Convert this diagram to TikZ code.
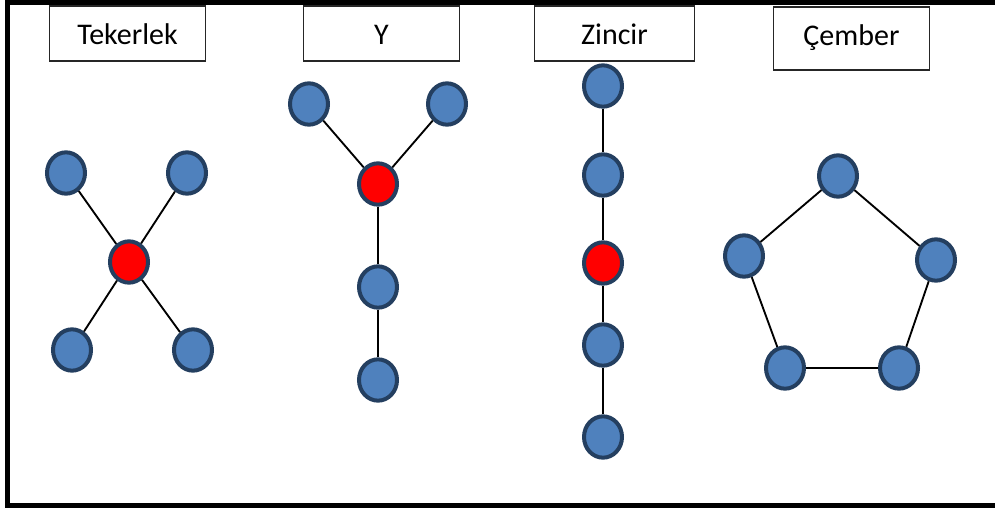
\documentclass[tikz,border=0pt]{standalone}
\usepackage{fontspec}
\setmainfont{Carlito}
\usepackage{tikz}
\usetikzlibrary{shapes.geometric}

\definecolor{nodeblue}{HTML}{4F81BD}
\definecolor{nodeedge}{HTML}{243F60}

\tikzset{
	vertex/.style={ellipse, draw=nodeedge, line width=3pt, fill=nodeblue,
		inner sep=0pt, minimum width=28.5pt, minimum height=31pt},
	hub/.style={vertex, fill=red},
	title/.style={draw=black!85, line width=0.8pt, minimum height=41.25pt,
		text height=16pt, text depth=0pt,
		font=\fontsize{22.5}{25}\selectfont},
	link/.style={line width=1.4pt}
}

\begin{document}
\begin{tikzpicture}[x=0.75pt,y=-0.75pt]
		\useasboundingbox (0,0) rectangle (995,511);
		% frame
		\draw[line width=3.8pt] (995,2) -- (7.5,2) -- (7.5,505.5) -- (995,505.5);
		% titles
		\node[title, minimum width=117pt] (tTek) at (127.5,33.5) {Tekerlek};
		\node[title, minimum width=117pt] (tY) at (381.5,33.5) {Y};
		\node[title, minimum width=120pt] (tZin) at (614.5,33.5) {Zincir};
		\node[title, minimum width=117pt, minimum height=47.25pt, text height=11pt]
			(tCem) at (851.5,38.5) {Çember};
		% wheel
		\node[hub] (w0) at (129,262) {};
		\node[vertex] (w1) at (66,173) {};
		\node[vertex] (w2) at (187,173) {};
		\node[vertex] (w3) at (72,350) {};
		\node[vertex] (w4) at (193,350) {};
		\draw[link] (w0) -- (w1);
		\draw[link] (w0) -- (w2);
		\draw[link] (w0) -- (w3);
		\draw[link] (w0) -- (w4);
		% Y
		\node[hub] (y0) at (378,184) {};
		\node[vertex] (y1) at (309,104) {};
		\node[vertex] (y2) at (447,104) {};
		\node[vertex] (y3) at (378,287) {};
		\node[vertex] (y4) at (378,380) {};
		\draw[link] (y0) -- (y1);
		\draw[link] (y0) -- (y2);
		\draw[link] (y0) -- (y3);
		\draw[link] (y3) -- (y4);
		% chain
		\node[vertex] (z1) at (603,86) {};
		\node[vertex] (z2) at (603,175) {};
		\node[hub] (z3) at (603,263) {};
		\node[vertex] (z4) at (603,345) {};
		\node[vertex] (z5) at (603,437) {};
		\draw[link] (z1) -- (z2) -- (z3) -- (z4) -- (z5);
		% cycle
		\node[vertex] (c1) at (838,176) {};
		\node[vertex] (c2) at (936,260) {};
		\node[vertex] (c3) at (899,368) {};
		\node[vertex] (c4) at (785,368) {};
		\node[vertex] (c5) at (744,256) {};
		\draw[link] (c1) -- (c2) -- (c3) -- (c4) -- (c5) -- (c1);
\end{tikzpicture}
\end{document}
